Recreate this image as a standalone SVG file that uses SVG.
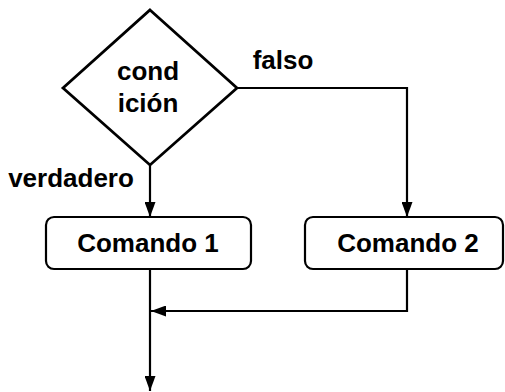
<svg xmlns="http://www.w3.org/2000/svg" width="505" height="392" viewBox="0 0 505 392">
  <style>
    .shape { fill: #ffffff; stroke: #000000; stroke-width: 2.2; }
    .decision { stroke-width: 2.8; }
    .line { fill: none; stroke: #000000; stroke-width: 2.2; }
    .label { font-family: "Liberation Sans", Arial, sans-serif; font-weight: bold; font-size: 26px; fill: #000000; text-anchor: middle; }
  </style>
  <defs>
    <marker id="arrow" markerWidth="15" markerHeight="11" refX="15" refY="5.5" orient="auto" markerUnits="userSpaceOnUse">
      <path d="M0,0 L15,5.5 L0,11 Z" fill="#000000"/>
    </marker>
  </defs>
  <rect width="505" height="392" fill="#ffffff"/>

  <g id="connectors">
    <path class="line" d="M150,165 L150,217" marker-end="url(#arrow)"/>
    <path class="line" d="M237,88 L407,88 L407,217" marker-end="url(#arrow)"/>
    <path class="line" d="M407,269 L407,311 L151,311" marker-end="url(#arrow)"/>
    <path class="line" d="M150,269 L150,391" marker-end="url(#arrow)"/>
  </g>

  <g id="condicion">
    <polygon class="shape decision" points="150,10 237,88 150,165 63,88"/>
    <text class="label" x="148" y="80">cond</text>
    <text class="label" x="148" y="112">ición</text>
  </g>

  <g id="label-verdadero">
    <text class="label" x="71" y="187">verdadero</text>
  </g>

  <g id="label-falso">
    <text class="label" x="283" y="69">falso</text>
  </g>

  <g id="comando1">
    <rect class="shape" x="46" y="217" width="205" height="52" rx="8" ry="8"/>
    <text class="label" x="148" y="252">Comando 1</text>
  </g>

  <g id="comando2">
    <rect class="shape" x="305" y="217" width="198" height="52" rx="8" ry="8"/>
    <text class="label" x="408" y="252">Comando 2</text>
  </g>
</svg>
